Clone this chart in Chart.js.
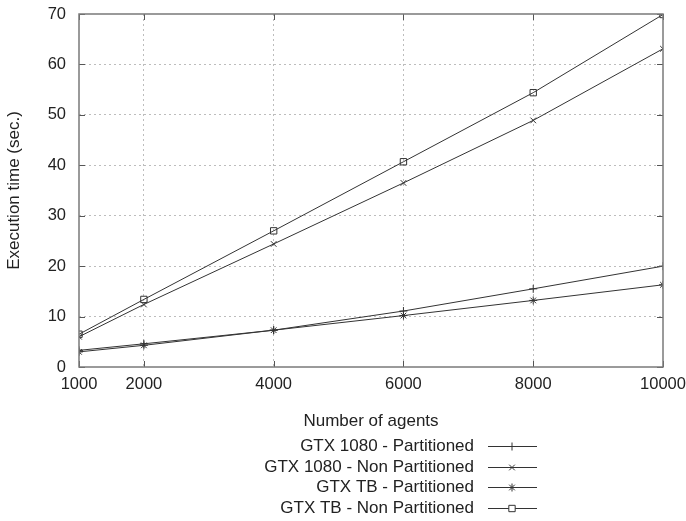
<!DOCTYPE html>
<html>
<head>
<meta charset="utf-8">
<script src="https://cdn.jsdelivr.net/npm/chart.js@4/dist/chart.umd.min.js"></script>
<style>
  html, body { margin: 0; padding: 0; background: #fff; }
  #wrap { width: 686px; height: 521px; }
</style>
</head>
<body>
<div id="wrap"><canvas id="myChart" width="686" height="521"></canvas></div>
<script>
var agents = [1000, 2000, 4000, 6000, 8000, 10000];
var xTicks = [1000, 2000, 4000, 6000, 8000, 10000];

var gtx1080Part = [3.3, 4.6, 7.3, 11.1, 15.5, 20.0];
var gtx1080NonPart = [6.0, 12.4, 24.4, 36.5, 48.9, 63.1];
var gtxTbPart = [3.0, 4.3, 7.3, 10.2, 13.2, 16.3];
var gtxTbNonPart = [6.5, 13.4, 27.0, 40.7, 54.4, 69.9];

var seriesNames = ['GTX 1080 - Partitioned', 'GTX 1080 - Non Partitioned', 'GTX TB - Partitioned', 'GTX TB - Non Partitioned'];

var lineColor = '#333';
var fontFamily = '"Liberation Sans", Arial, sans-serif';

function toPoints(values) {
    var pts = [];
    for (var i = 0; i < agents.length; i++) {
        pts.push({ x: agents[i], y: values[i] });
    }
    return pts;
}

function makeSet(label, values, style, radius) {
    return {
        label: label,
        data: toPoints(values),
        borderColor: lineColor,
        borderWidth: 1,
        pointStyle: style,
        pointRadius: radius,
        pointBorderColor: lineColor,
        pointBackgroundColor: 'rgba(0,0,0,0)',
        pointBorderWidth: 1,
        fill: false,
        tension: 0
    };
}

// gnuplot style inward tick marks on all four sides
var tickMarks = {
    id: 'tickMarks',
    afterDatasetsDraw: function (chart) {
        var ctx = chart.ctx;
        var a = chart.chartArea;
        var xs = chart.scales.x, ys = chart.scales.y;
        ctx.save();
        ctx.strokeStyle = '#555';
        ctx.lineWidth = 1;
        ctx.beginPath();
        xTicks.forEach(function (v) {
            var px = Math.round(xs.getPixelForValue(v)) + 0.5;
            ctx.moveTo(px, a.bottom); ctx.lineTo(px, a.bottom - 6);
            ctx.moveTo(px, a.top); ctx.lineTo(px, a.top + 6);
        });
        for (var v = 0; v <= 70; v += 10) {
            var py = Math.round(ys.getPixelForValue(v)) + 0.5;
            ctx.moveTo(a.left, py); ctx.lineTo(a.left + 6, py);
            ctx.moveTo(a.right, py); ctx.lineTo(a.right - 6, py);
        }
        ctx.stroke();
        // border
        ctx.strokeStyle = '#7a7a7a';
        ctx.lineWidth = 1.5;
        ctx.strokeRect(a.left, a.top, a.right - a.left, a.bottom - a.top);
        ctx.restore();
    }
};

// legend: text right aligned, sample line with marker on the right
var sideLegend = {
    id: 'sideLegend',
    afterDraw: function (chart) {
        var ctx = chart.ctx;
        var rows = [446, 467, 487, 508];
        ctx.save();
        ctx.font = '17px ' + fontFamily;
        ctx.textAlign = 'right';
        ctx.textBaseline = 'middle';
        chart.data.datasets.forEach(function (ds, i) {
            var y = rows[i];
            ctx.fillStyle = '#222';
            ctx.fillText(ds.label, 474, y);
            ctx.strokeStyle = lineColor;
            ctx.lineWidth = 1;
            ctx.beginPath();
            ctx.moveTo(488, y + 0.5);
            ctx.lineTo(537, y + 0.5);
            ctx.stroke();
            ctx.fillStyle = '#fff';
            Chart.helpers.drawPoint(ctx, {
                pointStyle: ds.pointStyle,
                radius: ds.pointRadius,
                borderWidth: 1,
                rotation: 0
            }, 512, y + 0.5);
        });
        ctx.restore();
    }
};

var ctx = document.getElementById('myChart').getContext('2d');
var chart = new Chart(ctx, {
    type: 'line',
    data: {
        datasets: [
            makeSet(seriesNames[0], gtx1080Part, 'cross', 4),
            makeSet(seriesNames[1], gtx1080NonPart, 'crossRot', 4),
            makeSet(seriesNames[2], gtxTbPart, 'star', 4),
            makeSet(seriesNames[3], gtxTbNonPart, 'rect', 4.5)
        ]
    },
    options: {
        responsive: false,
        animation: false,
        layout: { padding: { top: 14, right: 23, left: 0, bottom: 0 } },
        plugins: {
            legend: { display: false },
            tooltip: { enabled: false }
        },
        scales: {
            x: {
                type: 'linear',
                min: 1000,
                max: 10000,
                afterBuildTicks: function (scale) {
                    scale.ticks = xTicks.map(function (v) { return { value: v }; });
                },
                afterFit: function (scale) {
                    scale.height = 154;
                    scale.paddingLeft = 0;
                    scale.paddingRight = 0;
                },
                border: { display: false },
                grid: {
                    drawTicks: false,
                    color: function (c) {
                        return (c.tick && (c.tick.value === 1000 || c.tick.value === 10000)) ? 'rgba(0,0,0,0)' : '#bdbdbd';
                    },
                    lineWidth: 1
                },
                ticks: {
                    padding: 8,
                    color: '#222',
                    font: { size: 16.5, family: fontFamily },
                    maxRotation: 0,
                    autoSkip: false,
                    callback: function (v) { return String(v); }
                },
                title: {
                    display: true,
                    text: 'Number of agents',
                    color: '#222',
                    font: { size: 17, family: fontFamily },
                    padding: { top: 0, bottom: 89 }
                }
            },
            y: {
                min: 0,
                max: 70,
                afterFit: function (scale) {
                    scale.width = 79;
                    scale.paddingTop = 0;
                    scale.paddingBottom = 0;
                },
                border: { display: false },
                grid: {
                    drawTicks: false,
                    color: function (c) {
                        return (c.tick && (c.tick.value === 0 || c.tick.value === 70)) ? 'rgba(0,0,0,0)' : '#bdbdbd';
                    },
                    lineWidth: 1
                },
                ticks: {
                    stepSize: 10,
                    padding: 13,
                    color: '#222',
                    font: { size: 16.5, family: fontFamily },
                    callback: function (v) { return String(v); }
                },
                title: {
                    display: true,
                    text: 'Execution time (sec.)',
                    color: '#222',
                    font: { size: 17, family: fontFamily },
                    padding: { top: 4, bottom: 0 }
                }
            }
        }
    },
    plugins: [tickMarks, sideLegend]
});

// dotted grid lines
chart.options.scales.x.grid.dash = [2, 3];
chart.options.scales.x.border.dash = [2, 3];
chart.options.scales.y.border.dash = [2, 3];
chart.update();
</script>
</body>
</html>
